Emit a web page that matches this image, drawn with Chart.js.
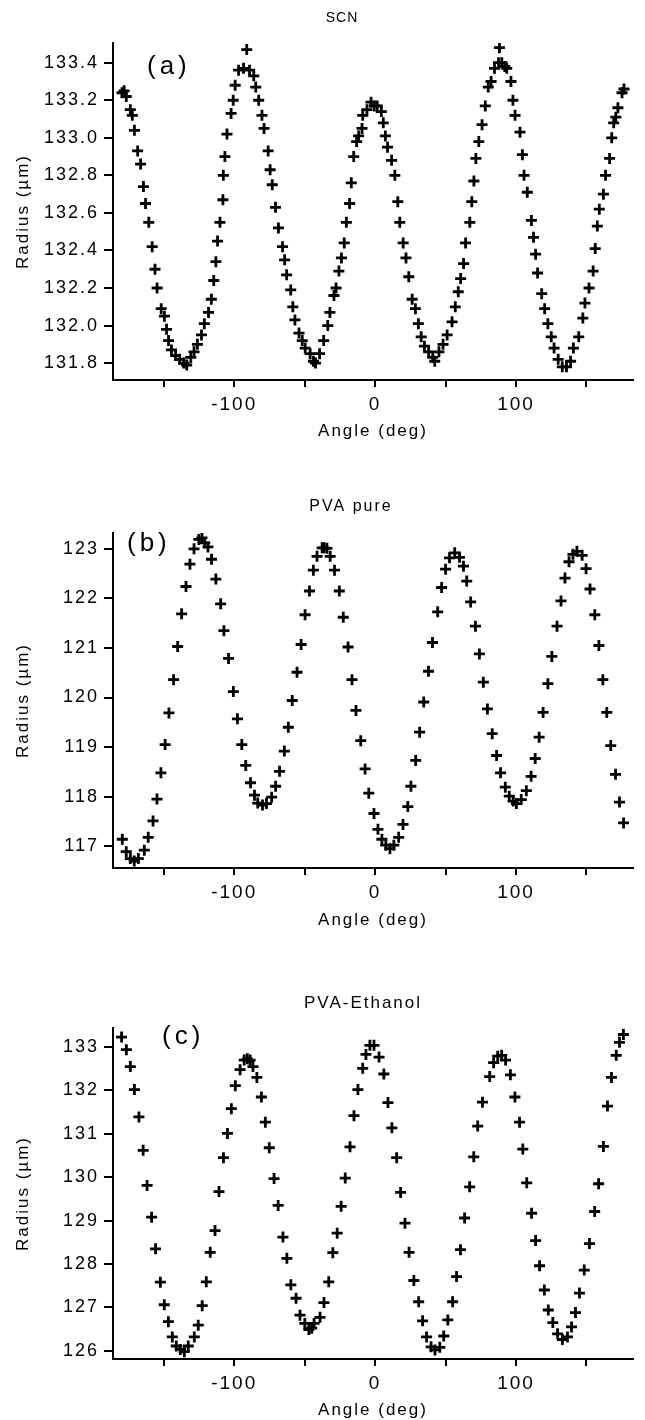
<!DOCTYPE html>
<html>
<head>
<meta charset="utf-8">
<script src="https://cdn.jsdelivr.net/npm/chart.js@4.4.1/dist/chart.umd.min.js"></script>
<style>
  html, body { margin: 0; padding: 0; background: #fff; width: 645px; height: 1420px; overflow: hidden; }
  .panel { position: absolute; left: 0; width: 645px; }
</style>
</head>
<body>
<div class="panel" style="top:0px"><canvas id="chartA" width="645" height="445"></canvas></div>
<div class="panel" style="top:490px"><canvas id="chartB" width="645" height="444"></canvas></div>
<div class="panel" style="top:985px"><canvas id="chartC" width="645" height="440"></canvas></div>
<script>
// (a) SCN
const angleA = [-179.6, -178.1, -176.6, -173.7, -172.3, -170.8, -168.5, -166.4, -164.4, -162.9, -160.6, -158.2, -156.2, -154.7, -151.8, -149.5, -148.0, -146.6, -144.5, -141.6, -138.7, -135.8, -133.7, -130.8, -128.5, -126.1, -123.2, -121.2, -118.2, -116.2, -114.5, -113.0, -111.8, -110.1, -108.0, -107.7, -106.6, -105.1, -102.2, -100.7, -99.3, -96.9, -93.4, -91.1, -89.1, -86.1, -84.7, -82.6, -80.3, -78.8, -75.9, -74.5, -73.0, -70.7, -68.6, -65.7, -64.2, -62.8, -59.9, -58.4, -56.9, -54.0, -51.7, -49.6, -46.1, -43.8, -42.3, -39.4, -36.5, -33.6, -32.1, -29.2, -27.7, -25.7, -23.9, -21.9, -20.4, -18.1, -16.9, -15.2, -13.1, -11.7, -9.3, -8.8, -5.8, -2.9, -0.6, 1.5, 4.4, 5.8, 7.3, 8.8, 11.7, 14.0, 16.1, 17.5, 19.9, 21.9, 23.9, 26.3, 28.6, 30.7, 32.7, 35.0, 38.0, 40.9, 42.3, 45.3, 48.2, 51.1, 54.6, 56.9, 59.0, 60.7, 62.8, 64.2, 67.2, 68.6, 70.1, 71.5, 73.6, 75.9, 78.2, 80.3, 82.3, 84.7, 87.6, 88.2, 89.9, 92.0, 93.4, 96.4, 97.8, 99.3, 102.8, 104.5, 105.7, 108.0, 110.9, 112.4, 113.9, 115.3, 118.2, 120.3, 122.6, 125.0, 127.0, 129.9, 132.8, 135.8, 138.7, 140.7, 144.5, 147.4, 148.9, 151.8, 154.7, 156.2, 157.7, 159.1, 162.0, 163.5, 166.4, 167.9, 169.3, 170.8, 172.3, 175.2, 176.6];
const radiusA = [133.24, 133.25, 133.22, 133.15, 133.12, 133.04, 132.93, 132.86, 132.74, 132.65, 132.55, 132.42, 132.30, 132.20, 132.09, 132.05, 131.98, 131.92, 131.87, 131.84, 131.82, 131.80, 131.79, 131.83, 131.86, 131.90, 131.95, 132.01, 132.07, 132.14, 132.24, 132.34, 132.45, 132.55, 132.67, 132.80, 132.90, 133.02, 133.13, 133.20, 133.28, 133.36, 133.37, 133.47, 133.36, 133.33, 133.27, 133.20, 133.12, 133.05, 132.93, 132.83, 132.75, 132.63, 132.52, 132.42, 132.35, 132.27, 132.19, 132.10, 132.03, 131.96, 131.92, 131.88, 131.85, 131.81, 131.80, 131.85, 131.92, 132.00, 132.07, 132.16, 132.20, 132.29, 132.36, 132.44, 132.55, 132.65, 132.76, 132.90, 132.98, 133.01, 133.05, 133.12, 133.15, 133.19, 133.17, 133.17, 133.14, 133.08, 133.01, 132.95, 132.88, 132.80, 132.66, 132.55, 132.44, 132.36, 132.26, 132.14, 132.09, 132.01, 131.94, 131.89, 131.86, 131.83, 131.81, 131.86, 131.90, 131.95, 132.02, 132.10, 132.18, 132.25, 132.33, 132.44, 132.55, 132.66, 132.77, 132.89, 132.98, 133.07, 133.17, 133.27, 133.30, 133.37, 133.40, 133.48, 133.40, 133.38, 133.37, 133.30, 133.20, 133.12, 133.03, 132.91, 132.80, 132.71, 132.56, 132.47, 132.38, 132.28, 132.17, 132.09, 132.01, 131.94, 131.88, 131.82, 131.78, 131.78, 131.81, 131.88, 131.94, 132.04, 132.12, 132.20, 132.29, 132.41, 132.53, 132.62, 132.70, 132.80, 132.89, 133.00, 133.08, 133.11, 133.16, 133.24, 133.26];

// (b) PVA pure
const angleB = [-179.4, -176.6, -173.7, -170.9, -168.0, -163.8, -161.0, -157.6, -154.8, -152.0, -149.0, -146.3, -143.0, -140.1, -137.3, -134.2, -131.4, -128.5, -125.1, -122.9, -120.9, -118.6, -116.1, -113.0, -109.6, -107.3, -104.0, -100.6, -97.7, -94.6, -91.8, -88.4, -85.6, -83.3, -79.9, -77.1, -73.4, -70.6, -67.8, -64.4, -61.6, -58.8, -55.4, -52.5, -49.7, -46.6, -43.8, -41.2, -37.6, -36.2, -34.2, -31.9, -28.8, -25.4, -22.6, -19.2, -16.4, -13.6, -10.2, -7.1, -4.5, -0.8, 2.0, 4.8, 7.6, 10.5, 13.3, 16.7, 19.8, 23.2, 25.4, 28.8, 31.6, 34.5, 37.9, 40.7, 44.4, 47.2, 50.0, 52.8, 56.5, 59.9, 62.7, 65.0, 67.8, 71.2, 74.0, 76.8, 79.7, 83.1, 86.2, 89.0, 92.4, 95.2, 98.0, 100.3, 103.7, 107.3, 110.7, 113.6, 116.4, 119.2, 122.6, 125.4, 129.1, 131.9, 134.7, 137.6, 140.4, 143.2, 146.9, 149.7, 152.5, 155.9, 158.8, 161.6, 164.4, 167.2, 170.6, 173.4, 176.3];
const radiusB = [117.14, 116.89, 116.75, 116.70, 116.75, 116.92, 117.18, 117.51, 117.95, 118.48, 119.05, 119.69, 120.36, 121.03, 121.69, 122.24, 122.69, 123.00, 123.19, 123.22, 123.12, 123.04, 122.79, 122.39, 121.89, 121.35, 120.79, 120.12, 119.57, 119.05, 118.63, 118.28, 118.03, 117.87, 117.83, 117.86, 117.99, 118.21, 118.51, 118.92, 119.40, 119.94, 120.51, 121.07, 121.67, 122.15, 122.57, 122.85, 123.02, 123.02, 123.01, 122.85, 122.57, 122.15, 121.62, 121.02, 120.36, 119.74, 119.13, 118.56, 118.07, 117.66, 117.34, 117.14, 117.02, 116.95, 117.02, 117.18, 117.44, 117.80, 118.21, 118.73, 119.30, 119.91, 120.53, 121.11, 121.73, 122.22, 122.59, 122.82, 122.92, 122.83, 122.65, 122.35, 121.93, 121.44, 120.88, 120.31, 119.77, 119.27, 118.83, 118.48, 118.19, 118.01, 117.91, 117.86, 117.94, 118.12, 118.41, 118.77, 119.20, 119.70, 120.28, 120.83, 121.44, 121.95, 122.41, 122.74, 122.89, 122.95, 122.87, 122.60, 122.19, 121.67, 121.05, 120.36, 119.70, 119.03, 118.45, 117.89, 117.47];

// (c) PVA-Ethanol
const angleC = [-179.9, -176.5, -173.7, -170.8, -167.6, -164.6, -161.8, -158.6, -155.8, -152.4, -149.6, -146.7, -143.9, -141.1, -138.2, -135.4, -132.6, -128.3, -125.5, -122.7, -119.8, -117.0, -113.6, -110.8, -107.6, -104.8, -102.0, -99.2, -95.8, -92.9, -90.7, -88.7, -86.7, -83.9, -80.7, -77.9, -75.1, -71.7, -68.8, -65.4, -62.6, -59.8, -56.1, -53.3, -49.9, -47.0, -45.0, -43.3, -39.1, -36.3, -32.9, -30.0, -26.9, -24.1, -21.2, -17.8, -15.0, -12.2, -8.8, -6.5, -3.7, -0.8, 2.8, 6.2, 9.1, 11.9, 15.3, 18.1, 21.2, 24.1, 27.5, 30.9, 33.7, 36.5, 39.7, 42.5, 45.9, 48.7, 51.6, 55.0, 57.8, 60.6, 63.5, 67.1, 70.0, 72.8, 76.2, 81.3, 84.1, 87.0, 89.8, 92.6, 96.0, 99.2, 102.5, 104.8, 107.6, 111.0, 113.9, 116.7, 120.1, 122.9, 126.1, 129.5, 132.9, 136.5, 139.4, 142.2, 145.0, 148.4, 152.1, 155.8, 158.6, 162.0, 164.9, 167.7, 171.1, 173.4, 176.2];
const radiusC = [133.23, 132.94, 132.55, 132.02, 131.39, 130.62, 129.81, 129.08, 128.35, 127.58, 127.06, 126.67, 126.32, 126.11, 126.03, 125.98, 126.11, 126.32, 126.59, 127.04, 127.59, 128.27, 128.77, 129.67, 130.45, 131.01, 131.58, 132.11, 132.48, 132.70, 132.73, 132.70, 132.55, 132.30, 131.85, 131.27, 130.68, 129.97, 129.35, 128.62, 128.13, 127.52, 127.21, 126.82, 126.63, 126.49, 126.52, 126.63, 126.77, 127.11, 127.59, 128.26, 128.71, 129.33, 129.98, 130.70, 131.42, 132.02, 132.51, 132.83, 133.04, 133.04, 132.77, 132.38, 131.72, 131.14, 130.45, 129.65, 128.94, 128.27, 127.62, 127.13, 126.69, 126.32, 126.09, 126.02, 126.08, 126.34, 126.71, 127.13, 127.71, 128.33, 129.06, 129.78, 130.47, 131.18, 131.73, 132.32, 132.64, 132.79, 132.81, 132.70, 132.36, 131.85, 131.27, 130.65, 129.87, 129.17, 128.54, 127.96, 127.40, 126.94, 126.65, 126.39, 126.26, 126.32, 126.55, 126.88, 127.33, 127.86, 128.47, 129.21, 129.85, 130.71, 131.64, 132.30, 132.81, 133.11, 133.29];

const FONT = "'Liberation Sans', Arial, Helvetica, sans-serif";

// title + (a)/(b)/(c) drawn on the canvas, wide letter spacing like the scan
const panelText = {
  id: 'panelText',
  beforeDraw(chart) {
    chart.ctx.letterSpacing = '2px';
  },
  afterDraw(chart, args, o) {
    const ctx = chart.ctx;
    ctx.save();
    ctx.fillStyle = '#000';
    ctx.textBaseline = 'middle';
    ctx.textAlign = 'center';
    ctx.letterSpacing = o.titleSpacing + 'px';
    ctx.font = o.titleSize + 'px ' + FONT;
    ctx.fillText(o.title, o.titleX, o.titleY);
    ctx.textAlign = 'left';
    ctx.letterSpacing = '4px';
    ctx.font = '26px ' + FONT;
    ctx.fillText(o.letter, o.letterX, o.letterY);
    ctx.restore();
  }
};

function makePanel(id, angles, radii, p) {
  const pts = angles.map((a, i) => ({x: a, y: radii[i]}));
  return new Chart(document.getElementById(id), {
    type: 'scatter',
    data: {
      datasets: [{
        data: pts,
        pointStyle: 'cross',
        pointRadius: 5.5,
        pointBorderWidth: 2.8,
        borderColor: '#000',
        backgroundColor: '#000',
        showLine: false
      }]
    },
    options: {
      responsive: false,
      animation: false,
      devicePixelRatio: 1,
      layout: { padding: { top: 43, right: 12, left: 0, bottom: 0 } },
      plugins: {
        legend: { display: false },
        tooltip: { enabled: false },
        panelText: p.text
      },
      scales: {
        x: {
          type: 'linear',
          min: -186, max: 183,
          border: { color: '#000', width: 2 },
          grid: { drawOnChartArea: false, tickLength: 7, color: '#000', lineWidth: 2 },
          ticks: {
            stepSize: 50, includeBounds: false, autoSkip: false, maxRotation: 0,
            padding: 6, color: '#000', font: { family: FONT, size: 19 },
            callback: v => (v % 100 === 0 ? String(v) : '')
          },
          title: {
            display: true, text: 'Angle (deg)', color: '#000',
            font: { family: FONT, size: 17 }, padding: { top: 0, bottom: p.xTitlePad }
          },
          afterFit(s) { s.height = p.xh; }
        },
        y: {
          min: p.ymin, max: p.ymax,
          border: { color: '#000', width: 2 },
          grid: { drawOnChartArea: false, tickLength: 9, color: '#000', lineWidth: 2 },
          ticks: {
            stepSize: p.step, includeBounds: false, autoSkip: false,
            padding: 5, color: '#000', font: { family: FONT, size: 18 },
            callback: v => v.toFixed(p.dec)
          },
          title: {
            display: true, text: 'Radius (µm)', color: '#000',
            font: { family: FONT, size: 17 }, padding: { top: 12.8, bottom: 0 }
          },
          afterFit(s) { s.width = 113; }
        }
      }
    },
    plugins: [panelText]
  });
}

makePanel('chartA', angleA, radiusA, {
  ymin: 131.71, ymax: 133.505, step: 0.2, dec: 1, xh: 65, xTitlePad: 3.8,
  text: { title: 'SCN', titleSize: 14, titleSpacing: 1, titleX: 342, titleY: 18, letter: '(a)', letterX: 147, letterY: 67 }
});
makePanel('chartB', angleB, radiusB, {
  ymin: 116.56, ymax: 123.32, step: 1, dec: 0, xh: 66, xTitlePad: 3.8,
  text: { title: 'PVA pure', titleSize: 16, titleSpacing: 2, titleX: 351, titleY: 17, letter: '(b)', letterX: 127, letterY: 54 }
});
makePanel('chartC', angleC, radiusC, {
  ymin: 125.81, ymax: 133.44, step: 1, dec: 0, xh: 66, xTitlePad: 4.8,
  text: { title: 'PVA-Ethanol', titleSize: 17, titleSpacing: 2, titleX: 363, titleY: 18, letter: '(c)', letterX: 162, letterY: 52 }
});
</script>
</body>
</html>
